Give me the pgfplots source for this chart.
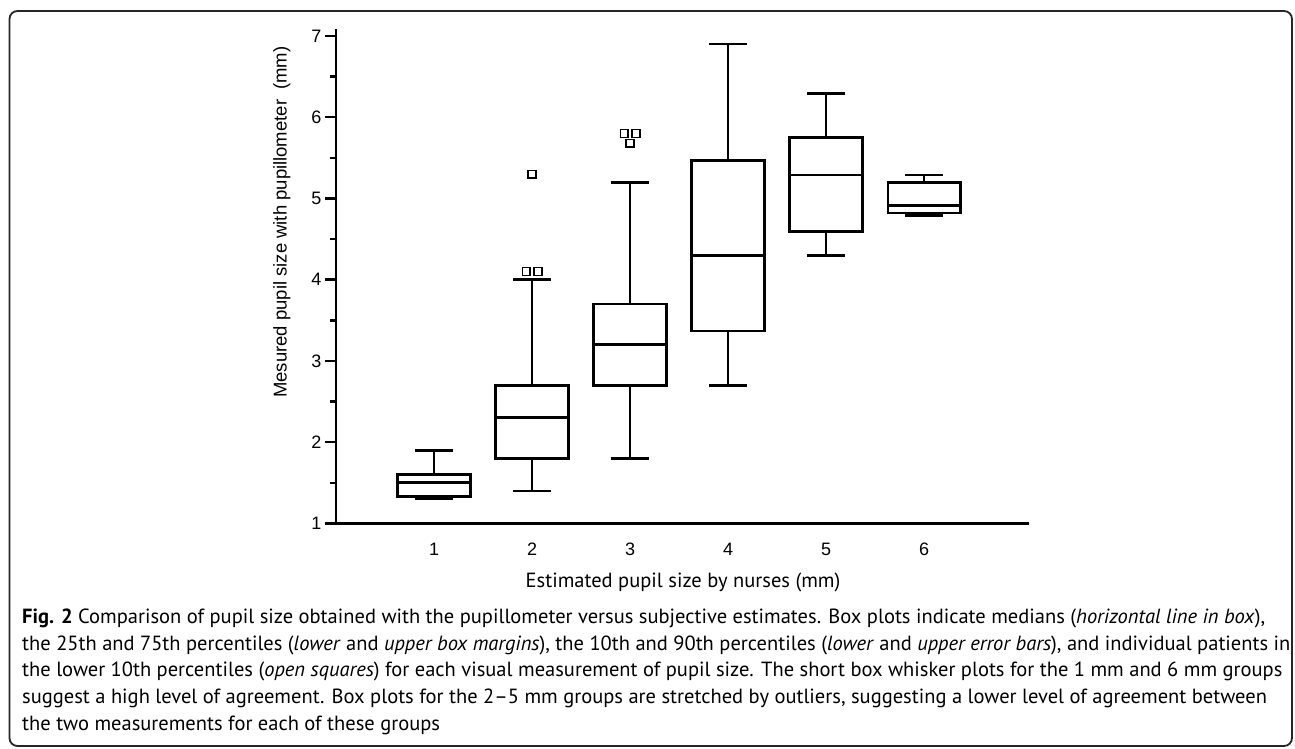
\documentclass[border=0pt]{standalone}
\usepackage{fontspec}
\setmainfont{Liberation Sans}
\newfontfamily\capfont{PT Sans}
\usepackage{pgfplots}
\pgfplotsset{compat=1.18}
\usepgfplotslibrary{statistics}
\newsavebox\capbox
\newlength\capw
\newcommand\lineA{\textbf{Fig. 2} Comparison of pupil size obtained with the pupillometer versus subjective estimates. Box plots indicate medians (\textit{horizontal line in box}),}
\newcommand\lineB{the 25th and 75th percentiles (\textit{lower} and \textit{upper box margins}), the 10th and 90th percentiles (\textit{lower} and \textit{upper error bars}), and individual patients in}
\newcommand\lineC{the lower 10th percentiles (\textit{open squares}) for each visual measurement of pupil size. The short box whisker plots for the 1 mm and 6 mm groups}
\newcommand\lineD{suggest a high level of agreement. Box plots for the 2–5 mm groups are stretched by outliers, suggesting a lower level of agreement between}
\newcommand\lineE{the two measurements for each of these groups}
\begin{document}
\sbox\capbox{\capfont\fontsize{20bp}{20bp}\selectfont\lineA}%
\setlength\capw{\wd\capbox}%
\pgfmathsetmacro\capfs{1247.66/\capw*20}%
\begin{tikzpicture}
\useasboundingbox (0,0) rectangle (1295bp,749bp);
\draw[line width=1.8bp, rounded corners=8bp, black!85] (9.5bp,3bp) rectangle (1292bp,738bp);
\begin{axis}[
  at={(336bp,225.5bp)}, anchor=south west,
  scale only axis, width=693bp, height=494bp,
  xmin=0, xmax=7.07, ymin=1, ymax=7.08,
  axis x line=bottom, axis y line=left,
  axis line style={-, line width=2.8bp, black},
  xtick={1,...,6}, ytick={1,...,7},
  minor ytick={1.5,2.5,...,6.5},
  tick align=outside,
  major tick length=11bp, minor tick length=6bp,
  tick style={line width=2.5bp, black},
  xtick style={draw=none},
  ticklabel style={font=\fontsize{18bp}{18bp}\selectfont},
  xticklabel style={yshift=-5bp},
  /pgf/number format/assume math mode=true,
  ylabel={Mesured pupil size with pupillometer\hspace{0.55em}(mm)},
  ylabel style={at={(axis description cs:-0.078,0.61)}, anchor=center, font=\fontsize{18.5bp}{18.5bp}\selectfont},
  boxplot/draw direction=y,
  boxplot/every median/.style={line width=2.8bp},
  boxplot/every box/.style={line width=2.7bp},
  boxplot/every whisker/.style={line width=2.7bp},
  clip=false,
]
\addplot[black, line width=2.7bp, boxplot prepared={draw position=1, lower whisker=1.3, lower quartile=1.33, median=1.5, upper quartile=1.6, upper whisker=1.9, box extend=0.74, whisker extend=0.39}] coordinates {};
\addplot[black, line width=2.7bp, boxplot prepared={draw position=2, lower whisker=1.4, lower quartile=1.8, median=2.3, upper quartile=2.7, upper whisker=4.0, box extend=0.74, whisker extend=0.39}] coordinates {};
\addplot[black, line width=2.7bp, boxplot prepared={draw position=3, lower whisker=1.8, lower quartile=2.7, median=3.2, upper quartile=3.7, upper whisker=5.2, box extend=0.74, whisker extend=0.39}] coordinates {};
\addplot[black, line width=2.7bp, boxplot prepared={draw position=4, lower whisker=2.7, lower quartile=3.37, median=4.3, upper quartile=5.47, upper whisker=6.9, box extend=0.74, whisker extend=0.39}] coordinates {};
\addplot[black, line width=2.7bp, boxplot prepared={draw position=5, lower whisker=4.3, lower quartile=4.59, median=5.29, upper quartile=5.75, upper whisker=6.29, box extend=0.74, whisker extend=0.39}] coordinates {};
\addplot[black, line width=2.7bp, boxplot prepared={draw position=6, lower whisker=4.79, lower quartile=4.82, median=4.91, upper quartile=5.2, upper whisker=5.29, box extend=0.74, whisker extend=0.39}] coordinates {};
\addplot[only marks, mark=square*, mark size=3.9bp, mark options={line width=1.4bp, draw=black, fill=white}] coordinates {(1.94,4.1) (2.06,4.1) (2,5.3) (2.94,5.8) (3.06,5.8) (3,5.68)};
\end{axis}
\node[anchor=base, inner sep=0pt] at (683bp,161bp) {\capfont\fontsize{\capfs bp}{\capfs bp}\selectfont Estimated pupil size by nurses (mm)};
\begin{scope}[every node/.style={anchor=base west, inner sep=0pt, font=\capfont\fontsize{\capfs bp}{\capfs bp}\selectfont}]
\node at (22bp,125bp) {\lineA};
\node at (22bp,98.5bp) {\lineB};
\node at (22bp,72bp) {\lineC};
\node at (22bp,45.5bp) {\lineD};
\node at (22bp,19bp) {\lineE};
\end{scope}
\end{tikzpicture}
\end{document}
